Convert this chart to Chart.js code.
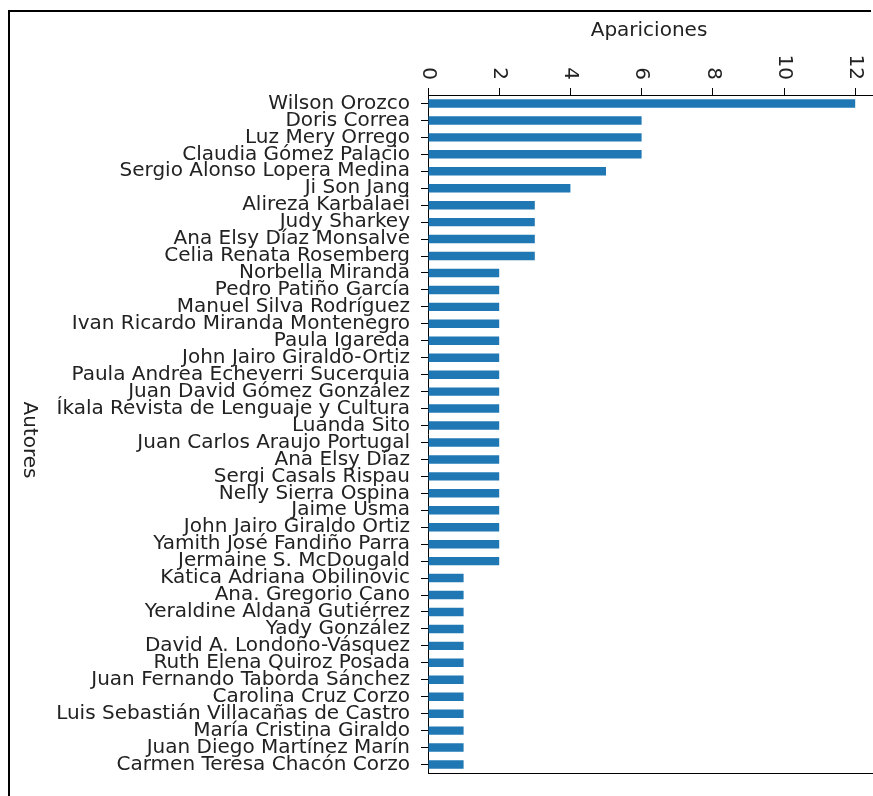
<html><head>
  <title>Apariciones por autor</title>
  <script src="https://cdn.jsdelivr.net/npm/chart.js"></script>
  <style>
    body {
      margin: 0;
      background: white;
      overflow: hidden;
    }
  </style>
</head>
<body>
  <canvas id="chart" width="873" height="796"></canvas>

  <script>
    // Autores y numero de apariciones
    const autores = [
      'Wilson Orozco', 'Doris Correa', 'Luz Mery Orrego', 'Claudia Gómez Palacio',
      'Sergio Alonso Lopera Medina', 'Ji Son Jang', 'Alireza Karbalaei', 'Judy Sharkey',
      'Ana Elsy Díaz Monsalve', 'Celia Renata Rosemberg', 'Norbella Miranda', 'Pedro Patiño García',
      'Manuel Silva Rodríguez', 'Ivan Ricardo Miranda Montenegro', 'Paula Igareda',
      'John Jairo Giraldo-Ortiz', 'Paula Andrea Echeverri Sucerquia', 'Juan David Gómez González',
      'Íkala Revista de Lenguaje y Cultura', 'Luanda Sito', 'Juan Carlos Araujo Portugal',
      'Ana Elsy Díaz', 'Sergi Casals Rispau', 'Nelly Sierra Ospina', 'Jaime Usma',
      'John Jairo Giraldo Ortiz', 'Yamith José Fandiño Parra', 'Jermaine S. McDougald',
      'Katica Adriana Obilinovic', 'Ana. Gregorio Cano', 'Yeraldine Aldana Gutiérrez',
      'Yady González', 'David A. Londoño-Vásquez', 'Ruth Elena Quiroz Posada',
      'Juan Fernando Taborda Sánchez', 'Carolina Cruz Corzo', 'Luis Sebastián Villacañas de Castro',
      'María Cristina Giraldo', 'Juan Diego Martínez Marín', 'Carmen Teresa Chacón Corzo'
    ];
    const apariciones = [
      12, 6, 6, 6, 5, 4, 3, 3, 3, 3,
      2, 2, 2, 2, 2, 2, 2, 2, 2, 2,
      2, 2, 2, 2, 2, 2, 2, 2, 1, 1,
      1, 1, 1, 1, 1, 1, 1, 1, 1, 1
    ];
    const xTickValues = [0, 2, 4, 6, 8, 10, 12];
    // la figura original esta recortada a la derecha
    const xMax = 12.5;

    const textColor = '#222';
    const fontFamily = "'DejaVu Sans', sans-serif";
    const fontSize = 20;

    // marco, ejes rotados y linea inferior, como en la figura original
    const extras = {
      id: 'extras',
      afterDraw(chart) {
        const ctx = chart.ctx;
        const area = chart.chartArea;
        const xs = chart.scales.x;
        ctx.save();

        // marco exterior (solo arriba e izquierda)
        ctx.fillStyle = '#000';
        ctx.fillRect(8, 10, chart.width - 10, 2);
        ctx.fillRect(8, 10, 2, chart.height - 10);

        ctx.fillStyle = textColor;
        ctx.font = fontSize + 'px ' + fontFamily;

        // etiquetas del eje x, giradas 90 grados
        xTickValues.forEach(v => {
          const px = xs.getPixelForValue(v);
          ctx.save();
          ctx.translate(px, area.top - 15);
          ctx.rotate(Math.PI / 2);
          ctx.textAlign = 'right';
          ctx.textBaseline = 'middle';
          ctx.fillText(String(v), 0, 0);
          ctx.restore();
        });

        // titulo eje x
        ctx.textAlign = 'center';
        ctx.textBaseline = 'middle';
        ctx.fillText('Apariciones', 649, 31);

        // titulo eje y
        ctx.save();
        ctx.translate(29, 440);
        ctx.rotate(Math.PI / 2);
        ctx.fillText('Autores', 0, 0);
        ctx.restore();

        // linea inferior
        ctx.strokeStyle = '#000';
        ctx.lineWidth = 1;
        ctx.beginPath();
        ctx.moveTo(area.left, area.bottom + 0.5);
        ctx.lineTo(area.right, area.bottom + 0.5);
        ctx.stroke();
        ctx.restore();
      }
    };

    new Chart(document.getElementById('chart'), {
      type: 'bar',
      data: {
        labels: autores,
        datasets: [{
          data: apariciones,
          backgroundColor: '#1f77b4',
          categoryPercentage: 1,
          barPercentage: 0.5
        }]
      },
      options: {
        indexAxis: 'y',
        responsive: false,
        devicePixelRatio: 1,
        animation: false,
        layout: { padding: { left: 0, top: 0, right: 0, bottom: 7 } },
        plugins: {
          legend: { display: false },
          tooltip: { enabled: false }
        },
        scales: {
          x: {
            position: 'top',
            min: 0,
            max: xMax,
            ticks: { display: false, stepSize: 2, includeBounds: false },
            grid: { drawOnChartArea: false, tickLength: 7, color: '#000', tickColor: '#000' },
            border: { color: '#000', width: 1 },
            afterFit(scale) { scale.height = 95; }
          },
          y: {
            ticks: {
              autoSkip: false,
              color: textColor,
              padding: 11,
              font: { family: fontFamily, size: fontSize }
            },
            grid: { offset: false, drawOnChartArea: false, tickLength: 7, color: '#000', tickColor: '#000' },
            border: { color: '#000', width: 1 },
            afterFit(scale) { scale.width = 428; }
          }
        }
      },
      plugins: [extras]
    });
  </script>
</body></html>
